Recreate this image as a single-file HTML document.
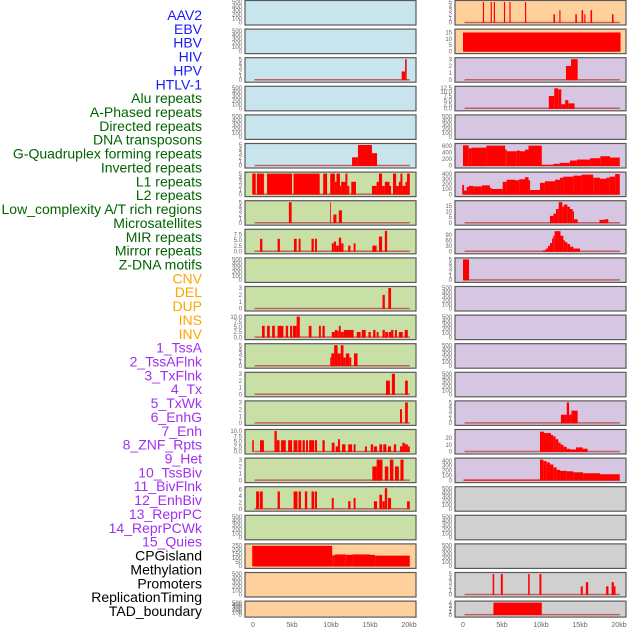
<!DOCTYPE html>
<html><head><meta charset="utf-8"><style>
html,body{margin:0;padding:0;background:#fff;}
svg{display:block;}
text{font-family:"Liberation Sans",sans-serif;}
</style></head><body>
<svg id="chart" width="630" height="630" xmlns="http://www.w3.org/2000/svg"></svg>
<script>
// ---- labels ----
const labels = ["AAV2","EBV","HBV","HIV","HPV","HTLV-1","Alu repeats","A-Phased repeats","Directed repeats","DNA transposons","G-Quadruplex forming repeats","Inverted repeats","L1 repeats","L2 repeats","Low_complexity A/T rich regions","Microsatellites","MIR repeats","Mirror repeats","Z-DNA motifs","CNV","DEL","DUP","INS","INV","1_TssA","2_TssAFlnk","3_TxFlnk","4_Tx","5_TxWk","6_EnhG","7_Enh","8_ZNF_Rpts","9_Het","10_TssBiv","11_BivFlnk","12_EnhBiv","13_ReprPC","14_ReprPCWk","15_Quies","CPGisland","Methylation","Promoters","ReplicationTiming","TAD_boundary"];
const labelGroups = ["virus","virus","virus","virus","virus","virus","rep","rep","rep","rep","rep","rep","rep","rep","rep","rep","rep","rep","rep","sv","sv","sv","sv","sv","cs","cs","cs","cs","cs","cs","cs","cs","cs","cs","cs","cs","cs","cs","cs","other","other","other","other","other"];
const xTicks = [0,5,10,15,20];
const xTickLabels = ["0","5kb","10kb","15kb","20kb"];
// ---- panel data: [startKb, endKb, value] ----
const E = [];
const T500 = [0,100,200,300,400,500];
const T5 = [0,1,2,3,4,5];
const T3 = [0,1,2,3];
const T10 = [0,2.5,5,7.5,10];
const L0=E, R0=[[2.55,2.7,5],[3.55,3.7,5],[3.95,4.1,5],[5.25,5.4,5],[5.95,6.1,5],[7.95,8.1,5],[11.6,11.8,2],[12.35,12.5,3],[14.4,14.6,2],[15.2,15.4,3],[15.55,15.7,2],[16.35,16.55,3],[19.1,19.3,2]];
const L1=E, R1=[[0,20.2,15]];
const L2=[[19.06,19.5,2],[19.5,19.7,5]], R2=[[13.2,13.85,2],[13.85,14.7,3]];
const L3=E, R3=[[11.0,11.7,7.5],[11.7,12.2,12.2],[12.2,12.6,11.5],[12.6,13.1,2.5],[13.1,13.5,5],[13.5,14.3,3]];
const L4=E, R4=E;
const L5=[[12.7,13.45,2],[13.45,15.25,5],[15.25,15.9,3]];
const R5=[[0,0.73,610],[0.73,1.1,520],[1.1,3.0,540],[3.0,5.4,600],[5.4,5.6,480],[5.6,6.9,430],[6.9,7.3,450],[7.3,7.95,430],[7.95,8.4,480],[8.4,10.1,600],[10.1,11.6,20],[11.6,12.4,50],[12.4,13.7,80],[13.7,14.6,150],[14.6,16.3,180],[16.3,17.6,220],[17.6,18.85,280],[18.85,20.1,240]];
const L6=[[-0.1,0.35,5],[0.5,1.4,5],[1.8,5.0,5],[5.2,8.55,5],[9.0,9.5,5],[9.9,10.5,5],[10.5,10.7,3],[10.7,11.15,5],[11.15,11.3,2],[11.3,11.85,3],[11.85,12.1,5],[12.1,12.35,2],[12.6,13.2,3],[15.25,15.85,2],[15.85,16.15,3],[16.15,16.55,5],[16.55,16.9,2],[16.9,17.5,3],[17.5,17.7,2],[17.95,18.35,5],[18.35,18.7,2],[18.7,18.9,3],[18.9,19.15,5],[19.15,19.55,2],[19.55,19.75,3],[19.75,20.1,5]];
const R6=[[-0.1,0.13,180],[0.13,0.47,70],[0.47,0.73,140],[0.73,1.33,160],[1.33,2.4,150],[2.4,3.46,170],[3.46,3.68,120],[3.68,5.09,100],[5.09,5.6,240],[5.6,6.67,280],[6.67,7.2,270],[7.2,7.95,290],[7.95,8.4,330],[8.4,8.6,270],[8.6,9.87,80],[9.87,10.5,220],[10.5,11.8,250],[11.8,12.44,280],[12.44,12.87,320],[12.87,14.15,340],[14.15,15.2,360],[15.2,16.7,380],[16.7,17.56,320],[17.56,18.4,300],[18.4,18.8,320],[18.8,19.5,340],[19.5,20.1,390]];
const L7=[[4.6,4.95,5],[9.9,10.0,5],[10.3,10.7,2],[11.0,11.4,3]];
const R7=[[11.15,11.6,6],[11.6,11.92,8],[11.92,12.27,12],[12.27,12.74,18],[12.74,12.95,14],[12.95,13.38,16],[13.38,13.72,14],[13.72,14.06,12],[14.06,14.23,10],[14.23,14.7,3],[17.5,18.1,2.5],[18.1,18.63,3]];
const L8=[[0.9,1.2,5.5],[3.15,3.45,5.5],[5.25,5.6,5.5],[5.85,6.1,5.5],[7.5,7.8,5.5],[7.95,8.2,5.5],[10.1,10.35,3.5],[10.35,10.65,4.3],[10.65,11.0,2.5],[11.0,11.3,6],[11.3,11.6,3.5],[12.2,12.5,2.5],[12.9,13.15,3.5],[15.3,15.85,2.5],[16.15,16.55,6.5],[16.9,17.2,9]];
const R8=[[10.23,10.6,5],[10.6,10.9,15],[10.9,11.15,30],[11.15,11.41,45],[11.41,11.58,70],[11.58,11.75,85],[11.75,12.5,110],[12.5,12.86,85],[12.86,13.08,60],[13.08,13.38,50],[13.38,13.72,40],[13.72,14.15,25],[14.15,15.0,15]];
const L9=E, R9=[[0,0.77,5]];
const L10=[[16.6,16.9,2],[17.35,17.7,3]], R10=E;
const L11=[[1.15,1.5,5.5],[1.8,2.15,5.5],[2.45,2.8,5.5],[3.15,3.9,5.5],[4.2,4.5,5.5],[4.75,5.0,5.5],[5.1,5.6,5.5],[5.6,6.0,10],[7.15,7.5,5.5],[8.45,8.7,5.5],[8.9,9.2,5.5],[10.1,10.5,2.5],[10.5,10.8,3.5],[10.8,11.0,3],[11.0,11.25,5.5],[11.25,11.65,2.5],[11.65,12.9,3.5],[13.3,13.8,2.5],[13.95,14.45,3.5],[14.8,15.1,2.5],[15.4,15.7,3.5],[15.85,16.1,2.5],[16.6,16.9,3.5],[16.95,17.3,2.5],[17.4,17.7,2.5],[17.7,18.0,3.5],[18.2,18.45,3.5],[18.7,19.2,2.5],[19.45,19.85,3.5]];
const R11=E;
const L12=[[9.9,10.05,2],[10.05,10.4,3],[10.4,10.85,5],[10.85,11.25,3],[11.25,11.6,5],[11.6,11.9,2],[11.9,12.35,3],[12.35,12.6,2],[12.95,13.4,3]], R12=E;
const L13=[[17.05,17.55,2],[17.8,18.2,3],[19.5,19.85,2]], R13=E;
const L14=[[18.85,19.1,2],[19.5,19.85,3]];
const R14=[[12.55,13.3,2],[13.3,13.6,5],[13.6,13.9,2],[13.9,14.7,3]];
const L15=[[-0.1,0.1,5.5],[0.9,1.4,5.5],[2.75,3.05,10],[3.05,3.4,5.5],[3.6,4.2,5.5],[4.5,5.0,5.5],[5.2,5.7,5.5],[5.8,6.2,5.5],[6.35,6.65,5.5],[6.8,7.05,5.5],[7.2,7.85,5.5],[7.95,8.2,5.5],[8.9,9.2,5.5],[10.1,10.45,4.3],[10.6,10.9,2.5],[10.9,11.15,6],[11.4,11.85,3.5],[12.2,12.7,3.5],[12.9,13.15,3.5],[14.35,14.6,2.5],[15.1,15.4,3.5],[15.5,15.9,2.5],[16.2,16.55,3.5],[16.7,17.1,3.5],[17.3,17.7,2.5],[18.05,18.35,3.5],[18.85,19.15,2.5],[19.15,19.45,4.3],[19.45,19.85,3.5],[19.85,20.1,2.5]];
const R15=[[9.87,10.38,29],[10.38,11.28,27],[11.28,11.58,24],[11.58,11.88,22],[11.88,12.22,18],[12.22,12.52,13],[12.52,12.86,10],[12.86,13.29,7],[13.29,13.72,4],[13.72,14.49,3],[14.49,15.34,6],[15.34,15.98,4]];
const L16=[[15.3,15.85,2],[15.85,16.6,3],[16.9,17.35,2],[17.55,18.0,3],[18.2,18.7,2],[18.9,19.3,3]];
const R16=[[0.05,9.87,10],[9.87,10.3,420],[10.3,10.73,390],[10.73,11.15,360],[11.15,11.58,320],[11.58,12.0,260],[12.0,12.44,210],[12.44,13.29,190],[13.29,14.15,180],[14.15,15.4,160],[15.4,17.56,140],[17.56,20.1,120]];
const L17=[[0.4,0.8,5.3],[0.9,1.25,5.3],[3.15,3.45,5.3],[5.2,5.7,5.3],[5.85,6.15,5.3],[6.65,6.95,5.3],[7.5,7.85,5.3],[7.95,8.2,5.3],[10.1,10.35,3.3],[12.2,12.5,2.3],[12.9,13.15,3.3],[15.5,15.9,2.3],[16.2,16.55,4.3],[16.6,16.9,2.3],[16.9,17.2,6.3],[17.3,17.7,3.3],[19.75,20.1,2.3]], R17=E;
const L18=E, R18=E;
const L19=[[-0.1,10.15,245],[10.15,10.5,130],[10.5,11.9,140],[11.9,12.7,135],[12.7,15.0,140],[15.0,15.65,135],[15.65,20.1,125]], R19=E;
const L20=E;
const R20=[[3.8,4.0,5],[4.85,5.1,5],[8.35,8.55,5],[9.8,10.05,5],[15.1,15.35,2],[15.75,16.05,3],[18.35,18.65,2],[19.05,19.35,3],[19.35,19.55,2]];
const L21=E, R21=[[3.9,10.1,4]];

const leftData=[L0,L1,L2,L3,L4,L5,L6,L7,L8,L9,L10,L11,L12,L13,L14,L15,L16,L17,L18,L19,L20,L21];
const rightData=[R0,R1,R2,R3,R4,R5,R6,R7,R8,R9,R10,R11,R12,R13,R14,R15,R16,R17,R18,R19,R20,R21];
const leftTicks=[T500,T500,T5,T500,T500,T5,T5,T5,[0,2.5,5,7.5],T500,T3,T10,T5,T3,T3,T10,T3,[0,2,4,6],T500,[0,50,100,150,200,250],T500,T500];
const leftMax=[500,500,5,500,500,5,5,5,9,500,3,10,5,3,3,10,3,6.3,500,250,500,500];
const rightTicks=[T5,[0,5,10,15],T3,[0,2.5,5,7.5,10,12.5],T500,[0,200,400,600],[0,100,200,300,400],[0,5,10,15],[0,30,60,90],T5,T500,T500,T500,T500,T5,[0,10,20],[0,100,200,300,400],T500,T500,T500,T5,[0,1,2,3,4]];
const rightMax=[5,16.5,3,12.5,500,620,400,18,112,5,500,500,500,500,5,30,420,500,500,500,5,4];
const leftBg=["#c8e4ec","#c8e4ec","#c8e4ec","#c8e4ec","#c8e4ec","#c8e4ec","#c8e0a6","#c8e0a6","#c8e0a6","#c8e0a6","#c8e0a6","#c8e0a6","#c8e0a6","#c8e0a6","#c8e0a6","#c8e0a6","#c8e0a6","#c8e0a6","#c8e0a6","#fdd09c","#fdd09c","#fdd09c"];
const rightBg=["#fdd09c","#fdd09c","#d6c6e2","#d6c6e2","#d6c6e2","#d6c6e2","#d6c6e2","#d6c6e2","#d6c6e2","#d6c6e2","#d6c6e2","#d6c6e2","#d6c6e2","#d6c6e2","#d6c6e2","#d6c6e2","#d6c6e2","#d0d0d0","#d0d0d0","#d0d0d0","#d0d0d0","#d0d0d0"];

const NS="http://www.w3.org/2000/svg";
const svg=document.getElementById('chart');
const groupColor={virus:"#1a1aff",rep:"#006400",sv:"#ffa500",cs:"#a030f0",other:"#000000"};
function mk(tag,attrs,parent){const e=document.createElementNS(NS,tag);for(const k in attrs)e.setAttribute(k,attrs[k]);(parent||svg).appendChild(e);return e;}

// labels
labels.forEach((t,i)=>{
  const el=mk('text',{x:202,y:(20+i*13.86).toFixed(1),'text-anchor':'end','font-size':'14',fill:groupColor[labelGroups[i]]});
  
  
  el.textContent=t;
});

const cols=[{x0:245,x1:416,zero:253,data:leftData,ticks:leftTicks,max:leftMax,bg:leftBg,side:'left'},
            {x0:455,x1:626,zero:463,data:rightData,ticks:rightTicks,max:rightMax,bg:rightBg,side:'right'}];
const pxPerKb=7.8;
cols.forEach(c=>{
  const xs=kb=>c.zero+kb*pxPerKb;
  for(let r=0;r<22;r++){
    const top=r*28.6+0.5, h=(r===21?16:24.5);
    const g=mk('g',{});
    
    
    const bg=mk('rect',{x:c.x0,y:top,width:c.x1-c.x0,height:h,fill:c.bg[r],stroke:'#5a5a5a','stroke-width':1.2},g);
    
    
    const zeroY=top+h-2.5, topY=top+1.5, mx=c.max[r];
    const ys=v=>zeroY-(v/mx)*(zeroY-topY);
    const d=c.data[r];
    if(d.length){
      const bl=mk('line',{x1:xs(0.2),x2:xs(20.1),y1:zeroY,y2:zeroY,stroke:'#c06060','stroke-width':1.5},g);
      
      
    }
    d.forEach(b=>{
      const y=ys(Math.min(b[2],mx));
      const rc=mk('rect',{x:xs(b[0]).toFixed(2),y:y.toFixed(2),width:Math.max(0.8,(b[1]-b[0])*pxPerKb).toFixed(2),height:(zeroY-y+0.5).toFixed(2),fill:'#ff0000'},g);
      
      
    });
    c.ticks[r].forEach(t=>{
      const tt=mk('text',{x:c.x0-3,y:(ys(t)+2.2).toFixed(1),'text-anchor':'end','font-size':'6',fill:'#666'},g);
      
      
      tt.textContent=String(t).includes('.')||c.ticks[r].some(v=>String(v).includes('.'))?t.toFixed(1):String(t);
    });
  }
  xTicks.forEach((t,i)=>{
    const tx=mk('text',{x:xs(t),y:627,'text-anchor':'middle','font-size':'7',fill:'#666'});
    
    
    tx.textContent=xTickLabels[i];
  });
});
</script>
</body></html>
